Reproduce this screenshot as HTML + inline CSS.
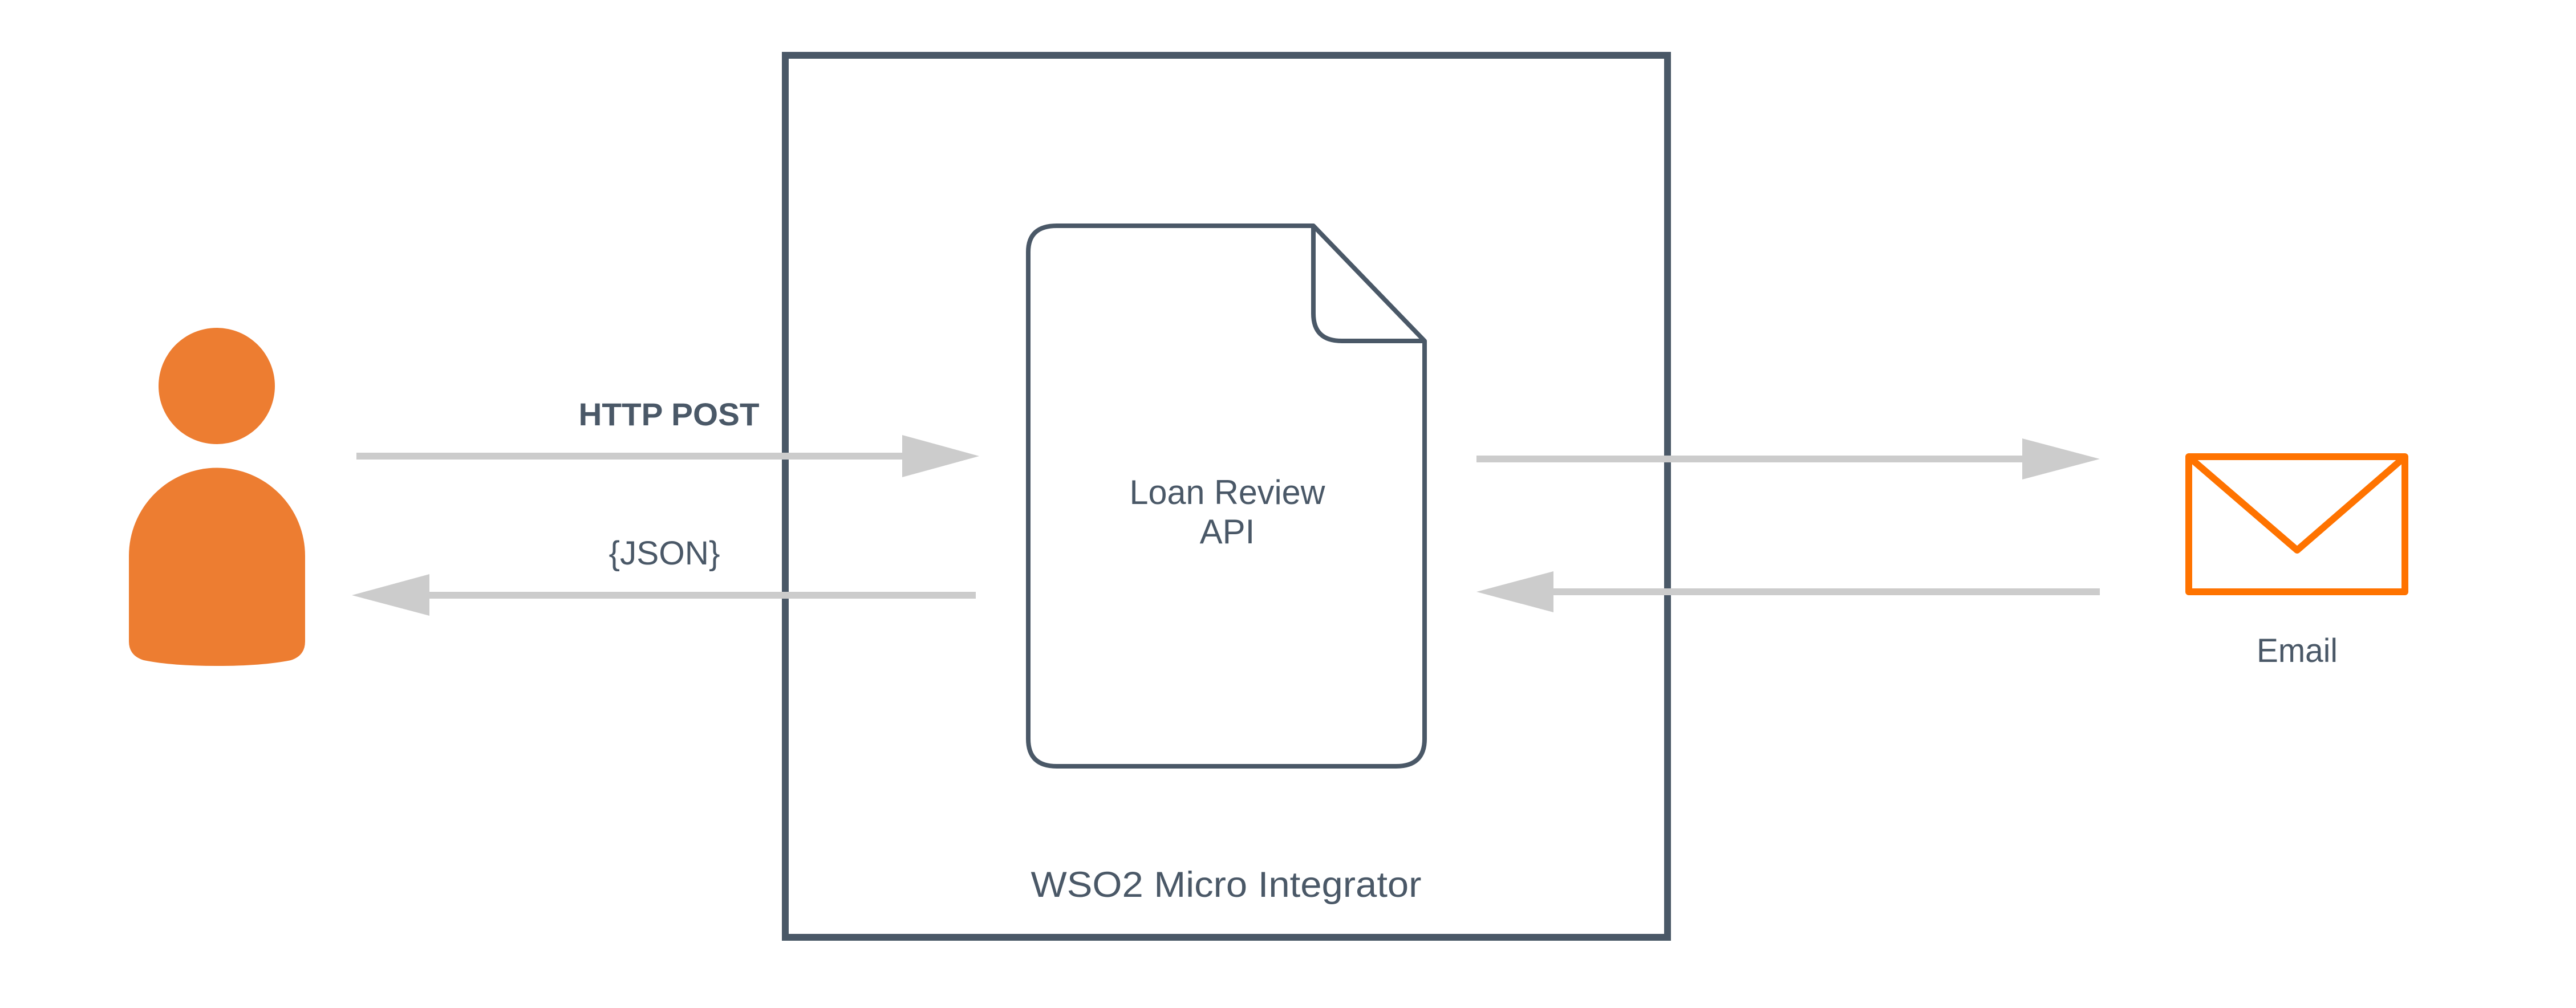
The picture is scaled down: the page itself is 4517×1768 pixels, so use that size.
<!DOCTYPE html>
<html><head><meta charset="utf-8"><style>
html,body{margin:0;padding:0;background:#fff;}
svg{display:block;}
</style></head><body>
<svg width="4517" height="1768" viewBox="0 0 4517 1768" xmlns="http://www.w3.org/2000/svg">
<rect x="0" y="0" width="4517" height="1768" fill="#fff"/>
<rect x="1377" y="97" width="1547" height="1547" fill="none" stroke="#4a5867" stroke-width="12"/>
<circle cx="380" cy="677" r="102" fill="#ED7D31"/>
<path d="M226 975 A154 154 0 0 1 535 975 L535 1125 Q535 1150 510 1158 Q460 1168 380 1168 Q300 1168 252 1158 Q226 1150 226 1125 Z" fill="#ED7D31"/>
<rect x="625" y="794" width="960" height="12" fill="#cccccc"/>
<polygon points="1582,763 1717,800 1582,837" fill="#cccccc"/>
<rect x="750" y="1038" width="961" height="12" fill="#cccccc"/>
<polygon points="753,1007 617,1044 753,1080" fill="#cccccc"/>
<rect x="2589" y="799" width="960" height="12" fill="#cccccc"/>
<polygon points="3546,769 3682,805 3546,841" fill="#cccccc"/>
<rect x="2722" y="1032" width="960" height="12" fill="#cccccc"/>
<polygon points="2724,1002 2589,1038 2724,1074" fill="#cccccc"/>
<path d="M1803 442 Q1803 396 1853 396 L2303 396 L2498 598 L2498 1296 Q2498 1344 2448 1344 L1853 1344 Q1803 1344 1803 1296 Z" fill="#fff" stroke="#4a5867" stroke-width="8" stroke-linejoin="round"/>
<path d="M2303 396 L2303 550 Q2303 598 2353 598 L2498 598" fill="none" stroke="#4a5867" stroke-width="8"/>
<rect x="3838" y="801" width="379" height="237" fill="none" stroke="#FF7300" stroke-width="12" stroke-linejoin="round"/>
<polyline points="3840,803 4028,965 4215,803" fill="none" stroke="#FF7300" stroke-width="12" stroke-linejoin="round" stroke-linecap="round"/>
<g font-family="'Liberation Sans', sans-serif" fill="#4a5867" text-anchor="middle">
<text x="1173" y="746" font-size="56" font-weight="bold" textLength="317" lengthAdjust="spacingAndGlyphs">HTTP POST</text>
<text x="1165" y="990" font-size="58" textLength="195" lengthAdjust="spacingAndGlyphs">{JSON}</text>
<text x="2152" y="884" font-size="60" textLength="343" lengthAdjust="spacingAndGlyphs">Loan Review</text>
<text x="2152" y="953" font-size="60">API</text>
<text x="2150" y="1573" font-size="63" textLength="685" lengthAdjust="spacingAndGlyphs">WSO2 Micro Integrator</text>
<text x="4028" y="1161" font-size="58" textLength="142" lengthAdjust="spacingAndGlyphs">Email</text>
</g>
</svg>
</body></html>
